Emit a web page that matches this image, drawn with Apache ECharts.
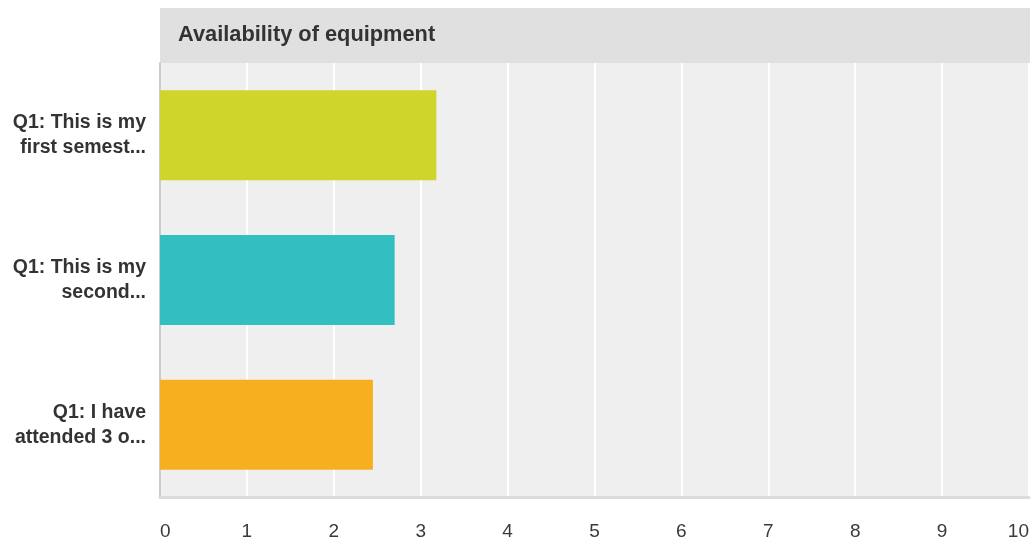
<!DOCTYPE html>
<html>
<head>
<meta charset="utf-8">
<script src="https://cdn.jsdelivr.net/npm/echarts@6/dist/echarts.min.js"></script>
<style>
html,body{margin:0;padding:0;background:#fff;}
#chart{width:1035px;height:544px;}
</style>
</head>
<body>
<div id="chart"></div>
<script>
const chartTitle = 'Availability of equipment';
const categories = ['Q1: This is my\nfirst semest...', 'Q1: This is my\nsecond...', 'Q1: I have\nattended 3 o...'];
const values = [3.18, 2.70, 2.45];
const xTicks = [0, 10, 1];

const barColors = ['#cfd52a', '#33bec1', '#f6b01f'];
const FONT = '"Liberation Sans", Arial, Helvetica, sans-serif';

const chart = echarts.init(document.getElementById('chart'), null, {renderer: 'canvas'});
chart.setOption({
  animation: false,
  backgroundColor: '#ffffff',
  title: {
    text: chartTitle,
    left: 178,
    top: 24,
    padding: 0,
    textStyle: {fontFamily: FONT, fontSize: 21.8, fontWeight: 'bold', color: '#333333'}
  },
  graphic: [{
    type: 'rect',
    z: -1,
    shape: {x: 160, y: 8, width: 870, height: 55},
    style: {fill: '#e0e0e0'}
  }],
  grid: {
    left: 160, right: 6, top: 63, bottom: 47,
    show: true, backgroundColor: '#efefef', borderWidth: 0
  },
  xAxis: {
    type: 'value',
    min: xTicks[0], max: xTicks[1], interval: xTicks[2],
    axisLine: {show: true, lineStyle: {color: '#dcdcdc', width: 3}},
    axisTick: {show: false},
    splitLine: {show: true, lineStyle: {color: '#ffffff', width: 2}},
    axisLabel: {
      fontFamily: FONT, fontSize: 19, color: '#3a3a3a', margin: 25,
      alignMinLabel: 'left', alignMaxLabel: 'right'
    }
  },
  yAxis: {
    type: 'category',
    inverse: true,
    data: categories,
    axisLine: {show: true, lineStyle: {color: '#cccccc', width: 2}},
    axisTick: {show: false},
    splitLine: {show: false},
    axisLabel: {
      fontFamily: FONT, fontSize: 19.5, fontWeight: 'bold', color: '#333333',
      lineHeight: 25, margin: 14, align: 'right'
    }
  },
  series: [{
    type: 'bar',
    data: values.map((v, i) => ({value: v, itemStyle: {color: barColors[i]}})),
    barWidth: 90,
    silent: true
  }]
});
</script>
</body>
</html>
